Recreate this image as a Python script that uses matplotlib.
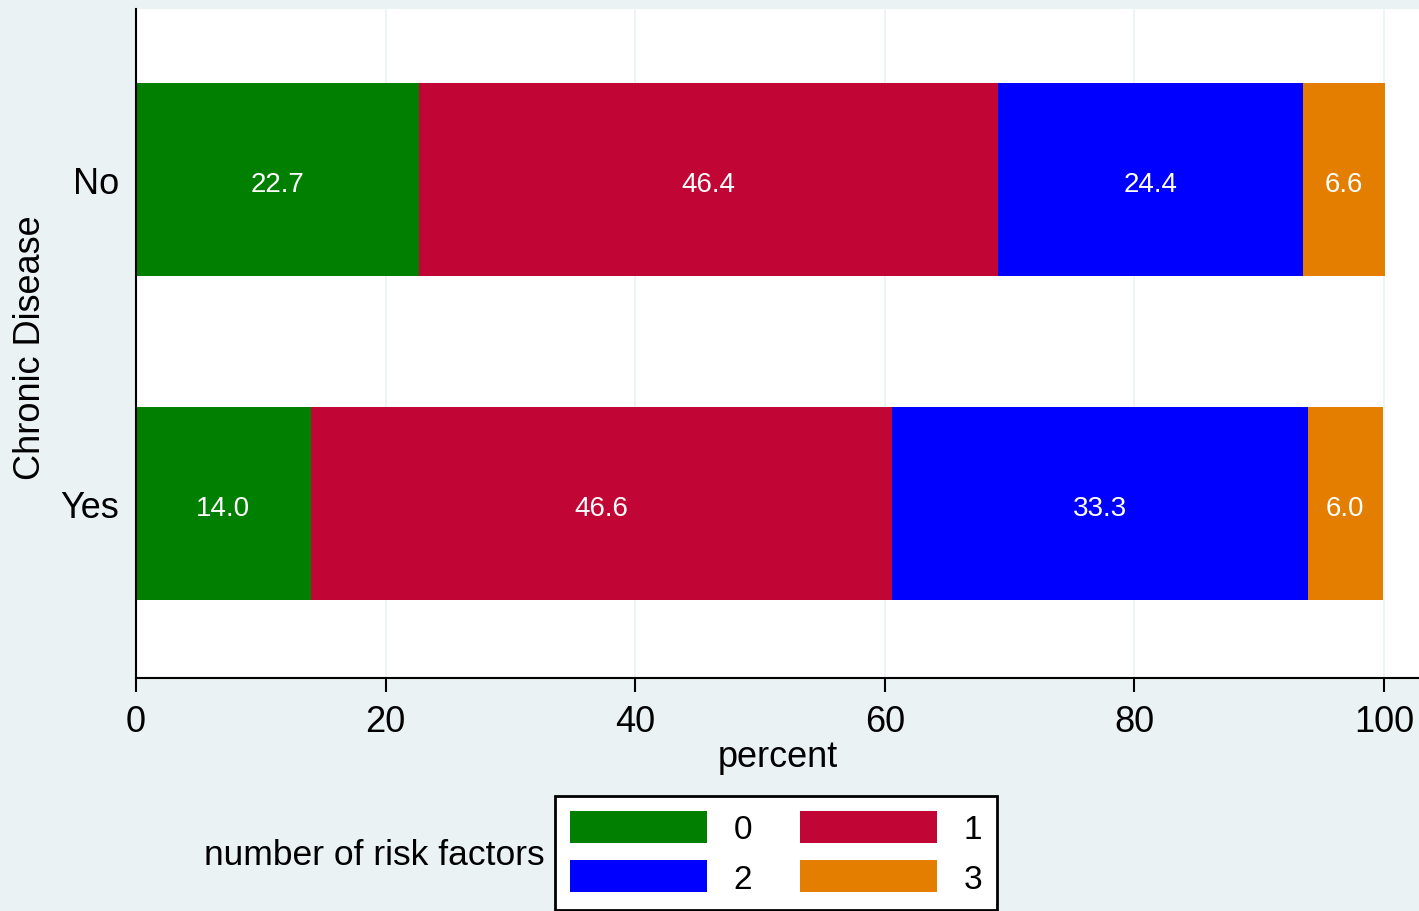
import matplotlib.pyplot as plt
import numpy as np

plt.rcParams['font.family'] = ['Liberation Sans', 'DejaVu Sans']

groups = ['Yes', 'No']
series_names = ['0', '1', '2', '3']
values = {
    '0': [14.0, 22.7],
    '1': [46.6, 46.4],
    '2': [33.3, 24.4],
    '3': [6.0, 6.6],
}
colors = ['#007f00', '#c10534', '#0000ff', '#e37e00']

bg = '#eaf2f3'
fig = plt.figure(figsize=(14.19, 9.12), dpi=100, facecolor=bg)
ax = fig.add_axes([136 / 1419, 1 - 679 / 912, 1 - 136 / 1419, (679 - 10) / 912])
ax.set_facecolor('white')

y = np.arange(len(groups))
left = np.zeros(len(groups))
handles = []
for name, c in zip(series_names, colors):
    vals = np.array(values[name])
    b = ax.barh(y, vals, left=left, height=0.596, color=c, label=name, zorder=2)
    handles.append(b)
    for yi, l, v in zip(y, left, vals):
        ax.text(l + v / 2, yi - 0.005, f'{v:.1f}', color='white', ha='center',
                va='center_baseline', fontsize=20, zorder=3)
    left += vals

ax.set_xlim(0, (1419 - 136) / 12.48)
ax.set_ylim(-0.539, 1.526)
ax.set_xticks([0, 20, 40, 60, 80, 100])
ax.set_yticks(y)
ax.set_yticklabels(groups)
ax.grid(axis='x', color=bg, linewidth=1.2, zorder=1)
ax.tick_params(axis='x', labelsize=26, length=10, width=1.5, pad=9)
ax.tick_params(axis='y', labelsize=26, length=0, pad=12)
for s in ['top', 'right']:
    ax.spines[s].set_visible(False)
for s in ['left', 'bottom']:
    ax.spines[s].set_linewidth(1.5)
ax.set_xlabel('percent', fontsize=26, labelpad=0)
fig.text(31 / 1419, 1 - 348 / 912, 'Chronic Disease', fontsize=26,
         rotation=90, ha='center', va='center')

# row-wise order like the reference: 0 1 / 2 3
order = [0, 2, 1, 3]
leg = fig.legend(handles=[handles[i] for i in order],
                 labels=[series_names[i] for i in order], ncol=2,
                 loc='upper left', bbox_to_anchor=(555 / 1419, 1 - 797 / 912),
                 borderaxespad=0, fontsize=24, handlelength=4.1, handleheight=1.1,
                 columnspacing=1.45, labelspacing=0.45, handletextpad=0.8,
                 borderpad=0.45, fancybox=False, edgecolor='black', framealpha=1)
leg.get_frame().set_linewidth(2)
fig.text(545 / 1419, 1 - 856 / 912, 'number of risk factors', fontsize=25.5,
         ha='right', va='center')

fig.savefig('out.png', dpi=100, facecolor=bg)
